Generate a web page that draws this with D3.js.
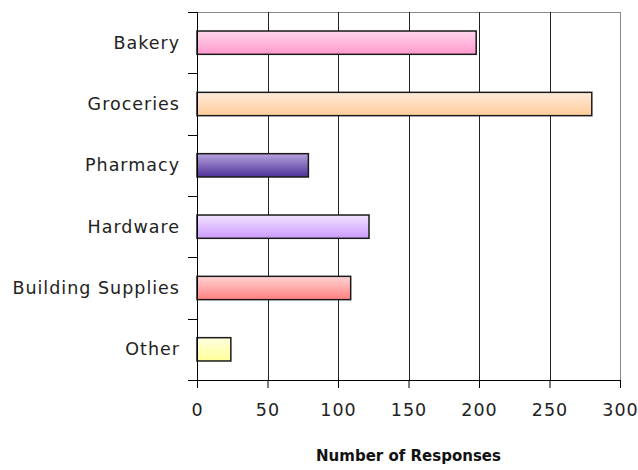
<!DOCTYPE html>
<html>
<head>
<meta charset="utf-8">
<script src="https://cdn.jsdelivr.net/npm/d3@7"></script>
<style>
  body { margin: 0; background: #fff; }
  svg { display: block; font-family: 'DejaVu Sans', sans-serif; }
</style>
</head>
<body>
<svg id="chart" width="638" height="470"></svg>
<script>
// data
const categories = ['Bakery', 'Groceries', 'Pharmacy', 'Hardware', 'Building Supplies', 'Other'];
const responses = [198, 280, 79, 122, 109, 24];
const xTicks = [0, 50, 100, 150, 200, 250, 300];
// gradient top / bottom per bar
const topColors = ['#ffd6ec', '#ffeadb', '#b6a4dc', '#f2e4ff', '#ffd4d4', '#ffffe0'];
const bottomColors = ['#ff99cc', '#ffcc99', '#4d3199', '#cc99ff', '#ff8080', '#ffff99'];

const svg = d3.select('#chart');
const plotLeft = 197, plotRight = 620, plotTop = 12, plotBottom = 380;

const x = d3.scaleLinear().domain([0, 300]).range([plotLeft, plotRight]);
const y = d3.scaleBand().domain(categories).range([plotTop, plotBottom]).paddingInner(0.62).paddingOuter(0.31);
const band = d3.scaleBand().domain(categories).range([plotTop, plotBottom]);

// gradients
const defs = svg.append('defs');
categories.forEach((c, i) => {
  const g = defs.append('linearGradient')
    .attr('id', 'grad' + i)
    .attr('x1', 0).attr('y1', 0).attr('x2', 0).attr('y2', 1);
  g.append('stop').attr('offset', '0%').attr('stop-color', topColors[i]);
  g.append('stop').attr('offset', '100%').attr('stop-color', bottomColors[i]);
});

// plot area border (top/right gray)
svg.append('line').attr('x1', plotLeft).attr('x2', plotRight).attr('y1', plotTop + 0.5).attr('y2', plotTop + 0.5)
  .attr('stroke', '#888').attr('stroke-width', 1);
svg.append('line').attr('x1', plotRight + 0.5).attr('x2', plotRight + 0.5).attr('y1', plotTop).attr('y2', plotBottom)
  .attr('stroke', '#888').attr('stroke-width', 1);

// vertical gridlines
svg.append('g')
  .selectAll('line')
  .data(xTicks.slice(1, -1))
  .join('line')
  .attr('x1', d => Math.round(x(d)) + 0.5)
  .attr('x2', d => Math.round(x(d)) + 0.5)
  .attr('y1', plotTop)
  .attr('y2', plotBottom)
  .attr('stroke', '#222')
  .attr('stroke-width', 1);

// bars
svg.append('g')
  .selectAll('rect')
  .data(categories)
  .join('rect')
  .attr('x', x(0))
  .attr('y', d => y(d))
  .attr('width', (d, i) => x(responses[i]) - x(0))
  .attr('height', y.bandwidth())
  .attr('fill', (d, i) => `url(#grad${i})`)
  .attr('stroke', '#1a1a1a')
  .attr('stroke-width', 1.5);

// x axis
const xAxis = svg.append('g')
  .attr('transform', `translate(0,${plotBottom})`)
  .call(d3.axisBottom(x).tickValues(xTicks).tickSize(8).tickPadding(16).tickSizeOuter(0));
xAxis.select('.domain').attr('stroke', '#000').attr('d', `M${plotLeft - 9},0.5H${plotRight}`);
xAxis.selectAll('.tick line').attr('stroke', '#000');
xAxis.selectAll('.tick text').attr('font-size', 17.5).attr('letter-spacing', 1).attr('fill', '#222')
  .attr('font-family', 'DejaVu Sans, sans-serif');

// y axis: ticks at band boundaries
const yAxis = svg.append('g').attr('transform', `translate(${plotLeft},0)`);
yAxis.append('line').attr('x1', 0.5).attr('x2', 0.5).attr('y1', plotTop).attr('y2', plotBottom + 8)
  .attr('stroke', '#000');
const bounds = categories.map(c => band(c)).concat([plotBottom]);
yAxis.selectAll('line.tk')
  .data(bounds)
  .join('line')
  .attr('class', 'tk')
  .attr('x1', -9).attr('x2', 0)
  .attr('y1', d => Math.round(d) + 0.5).attr('y2', d => Math.round(d) + 0.5)
  .attr('stroke', '#000');
yAxis.selectAll('text')
  .data(categories)
  .join('text')
  .attr('x', -17)
  .attr('y', d => band(d) + band.bandwidth() / 2)
  .attr('dy', '0.35em')
  .attr('text-anchor', 'end')
  .attr('font-size', 17.5)
  .attr('letter-spacing', 1)
  .attr('fill', '#222')
  .text(d => d);

// axis title
svg.append('text')
  .attr('x', (plotLeft + plotRight) / 2)
  .attr('y', 461)
  .attr('text-anchor', 'middle')
  .attr('font-size', 15)
  .attr('font-weight', 'bold')
  .attr('fill', '#111')
  .text('Number of Responses');
</script>
</body>
</html>
